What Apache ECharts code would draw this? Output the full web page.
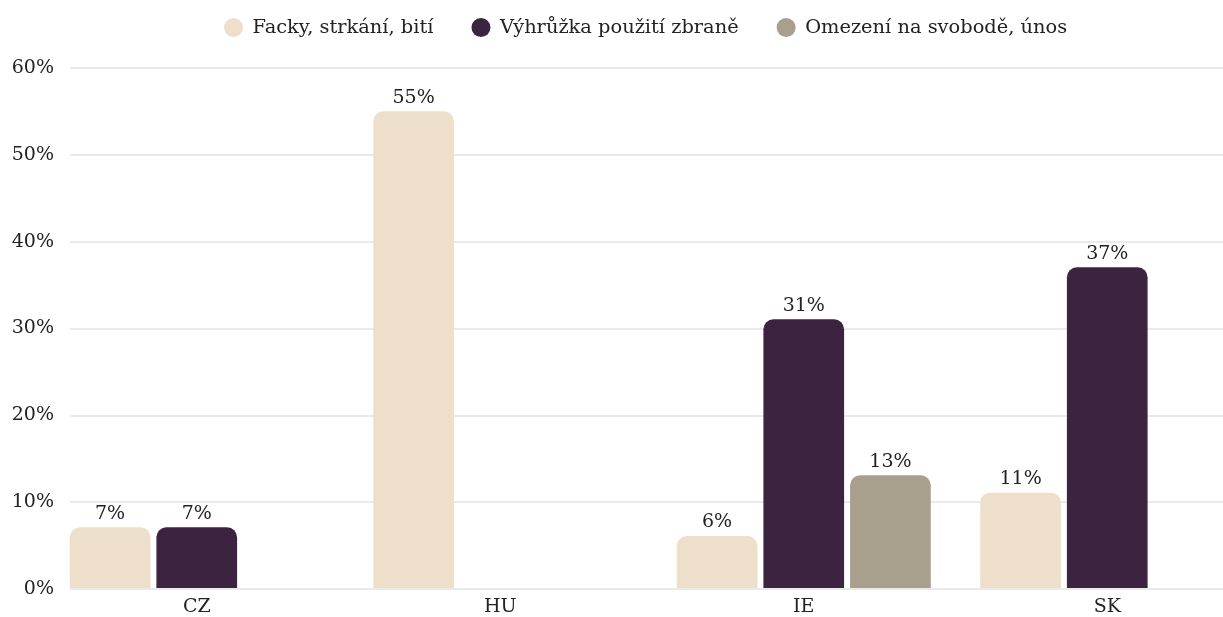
<!DOCTYPE html>
<html><head><meta charset="utf-8">
<script src="https://cdn.jsdelivr.net/npm/echarts@6/dist/echarts.min.js"></script>
<style>html,body{margin:0;padding:0;background:#fff;overflow:hidden}#c{width:1265px;height:617px}</style>
</head><body><div id="c"></div>
<script>
const categories = ['CZ', 'HU', 'IE', 'SK'];
const seriesNames = ['Facky, strkání, bití', 'Výhrůžka použití zbraně', 'Omezení na svobodě, únos'];
const facky = [7, 55, 6, 11];
const vyhruzka = [7, null, 31, 37];
const omezeni = [null, null, 13, null];
const yTicks = [0, 10, 20, 30, 40, 50, 60];
const colors = ['#EEDFCB', '#3C2340', '#A89F8C'];

const FONT = 'DejaVu Serif';
const FS = 19;
const chart = echarts.init(document.getElementById('c'));
const values = [facky, vyhruzka, omezeni];
chart.setOption({
  animation: false,
  textStyle: { fontFamily: FONT },
  legend: {
    top: 13, left: 219, icon: 'circle', itemWidth: 28, itemHeight: 19, itemGap: 38,
    textStyle: { fontFamily: FONT, fontSize: 19.4, color: '#222' },
    data: seriesNames
  },
  grid: [
    { left: 70, right: 42, top: 68, bottom: 28 },
    { left: 45, width: 1214, top: 68, bottom: 28 }
  ],
  xAxis: [
    { type: 'category', gridIndex: 0, data: categories, show: false },
    { type: 'category', gridIndex: 1, data: categories,
      axisLine: { show: false }, axisTick: { show: false },
      axisLabel: { fontFamily: FONT, fontSize: FS, color: '#222', margin: 10 } }
  ],
  yAxis: [
    { type: 'value', gridIndex: 0, min: yTicks[0], max: yTicks[yTicks.length - 1], interval: 10,
      axisLine: { show: false }, axisTick: { show: false },
      splitLine: { lineStyle: { color: '#e3e3e3', width: 1.5 } },
      axisLabel: { formatter: '{value}%', fontFamily: FONT, fontSize: FS, color: '#222', margin: 16 } },
    { type: 'value', gridIndex: 1, min: yTicks[0], max: yTicks[yTicks.length - 1], interval: 10, show: false }
  ],
  series: seriesNames.map((name, i) => ({
    name, type: 'bar', xAxisIndex: 1, yAxisIndex: 1,
    data: values[i],
    barGap: '7.4%', barCategoryGap: '16.3%',
    itemStyle: { color: colors[i], borderRadius: [10, 10, 0, 0] },
    label: { show: true, position: 'top', distance: 4, formatter: '{c}%',
      fontFamily: FONT, fontSize: FS, color: '#222' }
  }))
});
</script></body></html>
